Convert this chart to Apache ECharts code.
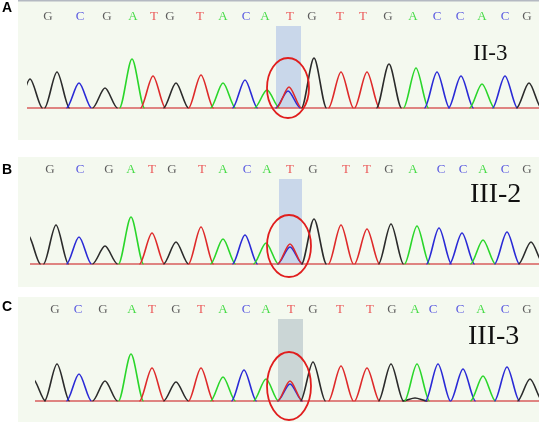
<!DOCTYPE html>
<html>
<head>
<meta charset="utf-8">
<script src="https://cdn.jsdelivr.net/npm/echarts@6/dist/echarts.min.js"></script>
<style>
html, body { margin: 0; background: #fff; }
#main { width: 539px; height: 422px; }
</style>
</head>
<body>
<div id="main"></div>
<script>
// base calls printed above every trace (same sequence in all three samples)
var calls = ['G','C','G','A','T','G','T','A','C','A','T','G','T','T','G','A','C','C','A','C','G'];
var callPosA = [48, 80, 107, 133, 154, 170, 200, 223, 246, 265, 290, 312, 340, 363, 388, 413, 437, 460, 482, 505, 527];
var callPosB = [50, 80, 109, 131, 152, 172, 202, 223, 247, 267, 290, 313, 346, 367, 389, 413, 441, 463, 483, 505, 527];
var callPosC = [55, 78, 103, 132, 152, 176, 201, 223, 246, 266, 291, 313, 340, 370, 392, 415, 433, 460, 481, 505, 527];

// peaks: scan position, signal height, channel
var peakPosA = [30, 57, 79, 105, 132, 153, 176, 201, 223, 245, 267, 288, 289, 314, 341, 367, 389, 416, 437, 461, 482, 505, 529];
var peakHtA  = [29, 36, 25, 20, 49, 32, 25, 33, 25, 28, 18, 17, 21, 50, 36, 36, 44, 40, 36, 32, 24, 32, 25];
var peakChA  = ['G','G','C','G','A','T','G','T','A','C','A','C','T','G','T','T','G','A','C','C','A','C','G'];

var peakPosB = [28, 56, 79, 105, 131, 152, 176, 201, 223, 245, 266, 290, 290, 314, 341, 367, 391, 417, 439, 462, 483, 507, 531];
var peakHtB  = [29, 39, 27, 18, 47, 31, 22, 37, 25, 29, 21, 17, 20, 45, 39, 35, 40, 38, 36, 31, 24, 32, 22];
var peakChB  = ['G','G','C','G','A','T','G','T','A','C','A','C','T','G','T','T','G','A','C','C','A','C','G'];

var peakPosC = [33, 57, 79, 105, 131, 152, 176, 201, 223, 244, 266, 290, 290, 313, 341, 367, 391, 415, 417, 438, 463, 483, 507, 530];
var peakHtC  = [22, 37, 27, 20, 47, 33, 19, 33, 24, 31, 22, 17, 20, 39, 35, 33, 37, 3, 37, 37, 32, 25, 34, 22];
var peakChC  = ['G','G','C','G','A','T','G','T','A','C','A','C','T','G','T','T','G','G','A','C','C','A','C','G'];

// highlighted position (heterozygous call) and circle around it
var shadeX = [[276, 301], [279, 302], [278, 303]];
var shadeTop = [82, 85, 82];
var ringCenter = [[288, 20], [289, 18], [289, 15]];
var ringRadius = [[21, 30], [22, 31], [22, 34]];

var samples = ['II-3', 'III-2', 'III-3'];
var panels = ['A', 'B', 'C'];

var traceColor = { G: '#2b2b2b', C: '#2a2ad6', A: '#2ad62a', T: '#de2a2a' };
var callColor  = { G: '#5e5e5e', C: '#5a5ae0', A: '#48dc48', T: '#ec5a5a' };

var gridTop = [8, 164, 301];
var traceLeft = [27, 30, 35];
var callY = [91, 94, 91];
var HALF = 12.5;

var chart = echarts.init(document.getElementById('main'));

function peakSeries(i, pos, ht, ch) {
  return {
    type: 'custom',
    xAxisIndex: i,
    yAxisIndex: i,
    clip: true,
    z: 3,
    data: pos.map(function (p, k) { return [p, ht[k]]; }),
    renderItem: function (params, api) {
      var x = api.value(0), h = api.value(1);
      var a = api.coord([x - HALF, 0]);
      var t = api.coord([x, h]);
      var b = api.coord([x + HALF, 0]);
      var d = (t[0] - a[0]) * 0.3;
      var path = 'M' + a[0] + ' ' + a[1] +
        ' C' + (a[0] + d) + ' ' + a[1] + ' ' + (t[0] - d) + ' ' + t[1] + ' ' + t[0] + ' ' + t[1] +
        ' C' + (t[0] + d) + ' ' + t[1] + ' ' + (b[0] - d) + ' ' + b[1] + ' ' + b[0] + ' ' + b[1];
      return {
        type: 'path',
        shape: { pathData: path },
        style: { fill: 'none', stroke: traceColor[ch[params.dataIndex]], lineWidth: 1.6 }
      };
    }
  };
}

function callSeries(i, pos) {
  return {
    type: 'custom',
    xAxisIndex: i,
    yAxisIndex: i,
    z: 4,
    data: pos.map(function (p) { return [p, callY[i]]; }),
    renderItem: function (params, api) {
      var c = api.coord([api.value(0), api.value(1)]);
      var b = calls[params.dataIndex];
      return {
        type: 'text',
        x: c[0], y: c[1],
        style: {
          text: b, fill: callColor[b],
          fontSize: 13, fontFamily: 'Liberation Serif',
          align: 'center', verticalAlign: 'middle'
        }
      };
    }
  };
}

function shadeSeries(i) {
  return {
    type: 'custom',
    xAxisIndex: i,
    yAxisIndex: i,
    z: 1,
    data: [[shadeX[i][0], shadeX[i][1], shadeTop[i]]],
    renderItem: function (params, api) {
      var p0 = api.coord([api.value(0), api.value(2)]);
      var p1 = api.coord([api.value(1), 0]);
      return {
        type: 'rect',
        shape: { x: p0[0], y: p0[1], width: p1[0] - p0[0], height: p1[1] - p0[1] },
        style: { fill: i === 2 ? '#cbd6d6' : '#c9d7ea' }
      };
    }
  };
}

function ringSeries(i) {
  return {
    type: 'custom',
    xAxisIndex: i,
    yAxisIndex: i,
    z: 6,
    data: [[ringCenter[i][0], ringCenter[i][1], ringRadius[i][0], ringRadius[i][1]]],
    renderItem: function (params, api) {
      var c = api.coord([api.value(0), api.value(1)]);
      var s = api.size([api.value(2), api.value(3)]);
      return {
        type: 'ellipse',
        shape: { cx: c[0], cy: c[1], rx: s[0], ry: s[1] },
        style: { fill: 'none', stroke: '#e01e1e', lineWidth: 1.8 }
      };
    }
  };
}

function baseSeries(i) {
  return {
    type: 'line',
    xAxisIndex: i,
    yAxisIndex: i,
    clip: false,
    z: 2,
    symbol: 'none',
    silent: true,
    data: [[traceLeft[i], 0], [539, 0]],
    lineStyle: { color: '#d85c5c', width: 1.5 }
  };
}

var grids = [], xAxes = [], yAxes = [], series = [];
var peaks = [[peakPosA, peakHtA, peakChA], [peakPosB, peakHtB, peakChB], [peakPosC, peakHtC, peakChC]];
var callPos = [callPosA, callPosB, callPosC];

for (var i = 0; i < 3; i++) {
  grids.push({ left: traceLeft[i], right: 0, top: gridTop[i], height: 102 });
  xAxes.push({ type: 'value', gridIndex: i, min: traceLeft[i], max: 539, show: false });
  yAxes.push({ type: 'value', gridIndex: i, min: -2, max: 100, show: false });
  series.push(shadeSeries(i));
  series.push(baseSeries(i));
  series.push(peakSeries(i, peaks[i][0], peaks[i][1], peaks[i][2]));
  series.push(callSeries(i, callPos[i]));
  series.push(ringSeries(i));
}

var bgTop = [1, 157, 297];
var bgBottom = [140, 287, 422];
var panelY = [8.5, 170, 307];
var sampleX = [473, 470, 468];
var sampleY = [54, 194.5, 337];
var sampleSize = [23, 28, 28];

var graphic = [];
for (var j = 0; j < 3; j++) {
  graphic.push({
    type: 'rect', z: -10, silent: true,
    shape: { x: 18, y: bgTop[j], width: 521, height: bgBottom[j] - bgTop[j] },
    style: { fill: '#f4f9ef' }
  });
  graphic.push({
    type: 'text', z: 10, x: 2, y: panelY[j],
    style: { text: panels[j], fill: '#000', font: 'bold 14px "Liberation Sans", Arial', verticalAlign: 'middle' }
  });
  graphic.push({
    type: 'text', z: 10, x: sampleX[j], y: sampleY[j],
    style: { text: samples[j], fill: '#111', font: sampleSize[j] + 'px "Liberation Serif", "Times New Roman"', verticalAlign: 'middle' }
  });
}
graphic.push({
  type: 'line', z: 10, silent: true,
  shape: { x1: 18, y1: 0.75, x2: 539, y2: 0.75 },
  style: { stroke: '#b4b9c2', lineWidth: 1.5 }
});

chart.setOption({
  animation: false,
  backgroundColor: '#fff',
  grid: grids,
  xAxis: xAxes,
  yAxis: yAxes,
  graphic: graphic,
  series: series
});
</script>
</body>
</html>
